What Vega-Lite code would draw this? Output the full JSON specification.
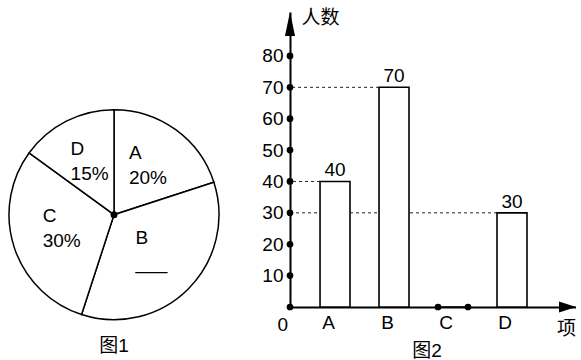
{
  "$schema": "https://vega.github.io/schema/vega-lite/v6.json",
  "padding": {"left": 5, "top": 8, "right": 0, "bottom": 0},
  "spacing": 38,
  "hconcat": [
    {
      "width": 218,
      "height": 295,
      "title": {"text": "图1", "orient": "bottom", "offset": 14, "anchor": "middle"},
      "data": {"values": [
        {"item": "A", "pct": 20, "label": "A\n20%"},
        {"item": "B", "pct": 35, "label": "B\n___"},
        {"item": "C", "pct": 30, "label": "C\n30%"},
        {"item": "D", "pct": 15, "label": "D\n15%"}
      ]},
      "encoding": {
        "y": {"datum": 0.313, "type": "quantitative", "scale": {"domain": [0, 1], "nice": false, "zero": false}, "axis": null}
      },
      "layer": [
        {
          "mark": {"type": "arc", "radius": 105, "fill": "white", "stroke": "black", "strokeWidth": 1.5},
          "encoding": {
            "theta": {"field": "pct", "type": "quantitative", "stack": true},
            "order": {"field": "item", "sort": "ascending"}
          }
        },
        {
          "mark": {"type": "text", "radius": 56, "align": "left", "dx": -18, "dy": -16, "baseline": "middle", "fontSize": 19, "lineBreak": "\n", "lineHeight": 25, "color": "black"},
          "encoding": {
            "theta": {"field": "pct", "type": "quantitative", "stack": true},
            "order": {"field": "item", "sort": "ascending"},
            "text": {"field": "label"}
          }
        },
        {
          "data": {"values": [{}]},
          "mark": {"type": "arc", "radius": 3.5, "theta": 0, "theta2": 6.2832, "fill": "black"},
          "encoding": {}
        }
      ]
    },
    {
      "width": 286,
      "height": 295,
      "title": {"text": "图2", "orient": "bottom", "offset": 4, "anchor": "middle", "dx": -6},
      "resolve": {"scale": {"x": "independent"}},
      "layer": [
        {
          "data": {"values": [
            {"item": "A", "count": 40},
            {"item": "B", "count": 70},
            {"item": "C", "count": 0},
            {"item": "D", "count": 30}
          ]},
          "layer": [
            {
              "transform": [{"filter": "datum.count > 0"}],
              "mark": {"type": "rule", "strokeDash": [3, 3], "strokeWidth": 1, "color": "#222222"},
              "encoding": {
                "x": {"field": "item", "type": "nominal", "bandPosition": 0, "scale": {"domain": ["A", "B", "C", "D"], "paddingInner": 0.492, "paddingOuter": 0.67, "align": 0.38}},
                "x2": {"value": 0},
                "y": {"field": "count", "type": "quantitative", "scale": {"domain": [0, 94], "nice": false}}
              }
            },
            {
              "mark": {"type": "bar", "fill": "white", "stroke": "black", "strokeWidth": 1.6},
              "encoding": {
                "x": {"field": "item", "type": "nominal", "scale": {"domain": ["A", "B", "C", "D"], "paddingInner": 0.492, "paddingOuter": 0.67, "align": 0.38},
                  "axis": {"title": "项", "labelAngle": 0, "labelFontSize": 19, "labelPadding": 15, "tickSize": 0, "ticks": false, "domainWidth": 2, "domainColor": "black", "labelColor": "black",
                    "titleFontSize": 19, "titleFontWeight": "normal", "titleAngle": 0, "titleAlign": "center", "titleBaseline": "top", "titleX": 276, "titleY": 12, "titleColor": "black"}},
                "y": {"field": "count", "type": "quantitative", "scale": {"domain": [0, 94], "nice": false},
                  "axis": {"title": "人数", "values": [10, 20, 30, 40, 50, 60, 70, 80], "grid": false, "ticks": false, "tickSize": 0, "labelPadding": 7, "labelFontSize": 19, "domainWidth": 2, "domainColor": "black", "labelColor": "black",
                    "titleFontSize": 19, "titleFontWeight": "normal", "titleAngle": 0, "titleAlign": "left", "titleBaseline": "top", "titleX": 11, "titleY": -4, "titleColor": "black"}}
              }
            },
            {
              "transform": [{"filter": "datum.count == 0"}],
              "mark": {"type": "point", "filled": true, "color": "black", "size": 45, "opacity": 1},
              "encoding": {
                "x": {"field": "item", "type": "nominal", "bandPosition": 0, "scale": {"domain": ["A", "B", "C", "D"], "paddingInner": 0.492, "paddingOuter": 0.67, "align": 0.38}},
                "y": {"field": "count", "type": "quantitative", "scale": {"domain": [0, 94], "nice": false}}
              }
            },
            {
              "transform": [{"filter": "datum.count == 0"}],
              "mark": {"type": "point", "filled": true, "color": "black", "size": 45, "opacity": 1},
              "encoding": {
                "x": {"field": "item", "type": "nominal", "bandPosition": 1, "scale": {"domain": ["A", "B", "C", "D"], "paddingInner": 0.492, "paddingOuter": 0.67, "align": 0.38}},
                "y": {"field": "count", "type": "quantitative", "scale": {"domain": [0, 94], "nice": false}}
              }
            },
            {
              "transform": [{"filter": "datum.count > 0"}],
              "mark": {"type": "text", "fontSize": 19, "baseline": "alphabetic", "dy": -5, "color": "black"},
              "encoding": {
                "x": {"field": "item", "type": "nominal", "scale": {"domain": ["A", "B", "C", "D"], "paddingInner": 0.492, "paddingOuter": 0.67, "align": 0.38}},
                "y": {"field": "count", "type": "quantitative", "scale": {"domain": [0, 94], "nice": false}},
                "text": {"field": "count", "type": "quantitative"}
              }
            }
          ]
        },
        {
          "layer": [
            {
              "data": {"values": [
                {"tick": 0}, {"tick": 10}, {"tick": 20}, {"tick": 30}, {"tick": 40},
                {"tick": 50}, {"tick": 60}, {"tick": 70}, {"tick": 80}
              ]},
              "mark": {"type": "point", "filled": true, "color": "black", "size": 45, "opacity": 1},
              "encoding": {
                "x": {"datum": 0, "type": "quantitative", "scale": {"domain": [0, 1], "nice": false, "zero": false}, "axis": null},
                "y": {"field": "tick", "type": "quantitative", "scale": {"domain": [0, 94], "nice": false}}
              }
            },
            {
              "data": {"values": [{}]},
              "mark": {"type": "point", "filled": true, "color": "black", "opacity": 1, "size": 289, "shape": "M-2,-0.65L0,0L-2,0.65Z"},
              "encoding": {
                "x": {"datum": 1, "type": "quantitative", "scale": {"domain": [0, 1], "nice": false, "zero": false}, "axis": null},
                "y": {"datum": 0, "type": "quantitative", "scale": {"domain": [0, 94], "nice": false}}
              }
            },
            {
              "data": {"values": [{}]},
              "mark": {"type": "point", "filled": true, "color": "black", "opacity": 1, "size": 576, "shape": "M-0.42,2L0,0L0.42,2Z"},
              "encoding": {
                "x": {"datum": 0, "type": "quantitative", "scale": {"domain": [0, 1], "nice": false, "zero": false}, "axis": null},
                "y": {"datum": 94, "type": "quantitative", "scale": {"domain": [0, 94], "nice": false}}
              }
            },
            {
              "data": {"values": [{"label": "0"}]},
              "mark": {"type": "text", "fontSize": 19, "align": "right", "baseline": "top", "dx": -2, "dy": 9, "color": "black"},
              "encoding": {
                "x": {"datum": 0, "type": "quantitative", "scale": {"domain": [0, 1], "nice": false, "zero": false}, "axis": null},
                "y": {"datum": 0, "type": "quantitative", "scale": {"domain": [0, 94], "nice": false}},
                "text": {"field": "label"}
              }
            }
          ]
        }
      ]
    }
  ],
  "config": {
    "font": "Liberation Sans, Noto Sans CJK SC, sans-serif",
    "view": {"stroke": null},
    "title": {"fontSize": 19, "fontWeight": "normal", "color": "black"},
    "axis": {"grid": false}
  }
}
